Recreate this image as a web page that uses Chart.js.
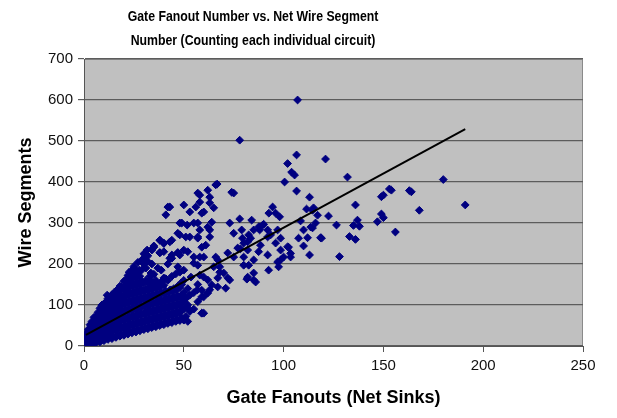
<!DOCTYPE html>
<html><head><meta charset="utf-8">
<title>Gate Fanout Number vs. Net Wire Segment</title>
<script src="https://cdn.jsdelivr.net/npm/chart.js@4.4.3/dist/chart.umd.min.js"></script>
<style>
  html,body{margin:0;padding:0;background:#fff}
  #wrap{width:617px;height:418px}
</style>
</head><body>
<div id="wrap"><canvas id="c" width="617" height="418"></canvas></div>
<script>
// [gate fanouts, wire segments]
const denseCore = [
  [0,1],[0,9],[0,18],[1,4],[1,16],[1,30],[2,3],[2,12],[2,26],[2,40],[3,8],[3,22],[3,38],[3,52],
  [4,5],[4,17],[4,33],[4,48],[4,60],[5,11],[5,27],[5,44],[5,58],[5,70],[6,8],[6,22],[6,40],[6,56],[6,72],
  [7,14],[7,30],[7,47],[7,64],[7,82],[8,10],[8,26],[8,43],[8,61],[8,78],[8,92],
  [9,16],[9,33],[9,52],[9,70],[9,86],[9,99],[10,13],[10,29],[10,47],[10,65],[10,83],[10,102],
  [11,19],[11,37],[11,55],[11,73],[11,92],[11,108],[12,16],[12,32],[12,50],[12,69],[12,88],[12,105],[12,116],
  [13,22],[13,41],[13,59],[13,78],[13,97],[13,114],[14,18],[14,36],[14,54],[14,72],[14,91],[14,109],[14,125],
  [15,24],[15,43],[15,62],[15,80],[15,99],[15,118],[15,130],[16,21],[16,39],[16,57],[16,76],[16,94],[16,113],[16,131],
  [17,27],[17,46],[17,64],[17,83],[17,102],[17,121],[17,139],
  [18,24],[18,42],[18,60],[18,79],[18,98],[18,116],[18,135],[18,146],
  [19,29],[19,48],[19,67],[19,86],[19,105],[19,124],[19,142],
  [20,26],[20,44],[20,63],[20,82],[20,101],[20,120],[20,139],[20,158],
  [21,32],[21,51],[21,70],[21,89],[21,108],[21,127],[21,146],[21,162],
  [22,29],[22,47],[22,66],[22,85],[22,104],[22,123],[22,142],[22,160],[22,172],
  [23,35],[23,54],[23,73],[23,92],[23,111],[23,130],[23,150],[23,168],
  [24,32],[24,50],[24,69],[24,88],[24,107],[24,126],[24,145],[24,164],[24,184],
  [25,37],[25,56],[25,75],[25,94],[25,113],[25,132],[25,152],[25,172],[25,194],
  [26,34],[26,52],[26,71],[26,90],[26,109],[26,128],[26,148],[26,168],
  [27,40],[27,59],[27,78],[27,97],[27,116],[27,136],[27,156],[27,178],[27,204],
  [28,37],[28,55],[28,74],[28,93],[28,112],[28,131],[28,150],[28,170],
  [29,42],[29,61],[29,80],[29,99],[29,118],[29,138],[29,158],[29,186],[29,210],
  [30,40],[30,58],[30,77],[30,96],[30,115],[30,134],[30,154],[30,200],[30,225],
  [31,45],[31,64],[31,83],[31,102],[31,121],[31,140],[31,160],[31,190],
  [32,42],[32,60],[32,79],[32,98],[32,117],[32,136],[32,156],[32,206],[32,220],
  [33,48],[33,67],[33,86],[33,105],[33,124],[33,143],[33,170],
  [34,45],[34,63],[34,82],[34,101],[34,120],[34,139],[34,158],[34,200],[34,236],
  [35,50],[35,69],[35,88],[35,107],[35,126],[35,145],[35,175],[35,244],
  [36,47],[36,66],[36,85],[36,104],[36,123],[36,142],[36,160],
  [37,53],[37,72],[37,91],[37,110],[37,129],[37,150],[37,190],
  [38,50],[38,68],[38,87],[38,106],[38,125],[38,144],[38,228],[38,258],
  [39,55],[39,74],[39,93],[39,112],[39,131],[39,158],
  [40,52],[40,71],[40,90],[40,109],[40,128],[40,148],[40,250],
  [41,58],[41,77],[41,96],[41,115],[41,134],[41,164],
  [42,55],[42,73],[42,92],[42,111],[42,130],[42,160],[42,200],
  [43,60],[43,79],[43,98],[43,117],[43,136],[43,214],
  [44,57],[44,76],[44,95],[44,114],[44,133],[44,170],[44,222],
  [45,63],[45,82],[45,101],[45,120],[45,140],
  [46,60],[46,78],[46,97],[46,116],[46,136],[46,176],
  [47,65],[47,84],[47,103],[47,122],[47,146],[47,228],
  [48,62],[48,81],[48,100],[48,119],[48,142],[48,180],
  [49,68],[49,87],[49,106],[49,125],[49,150],
  [50,64],[50,90],[50,110],[50,130],[50,160],[51,72],[51,116],[52,60],[52,100],[52,140],
  [53,84],[53,124],[55,90],[55,130],[57,108],[57,150],[59,80],[59,136]
]

const upperBand = [
  [25,190],[27.6,185],[22.6,180],[33.5,178],[38.7,185],[40,166],[33.5,154],[26.6,154],[21.6,161],[18.6,144],
  [16,129],[11.6,124],[9,100],[13.4,107],[30,214],[35,241],[31.6,234],[38,227],[44,214],[48,222],[50,234],
  [59,241],[58,217],[55,202],[47,193],[50,185],[53.6,168],[48.7,154],[43.7,137],[50,120],[51.7,95],[50,63],
  [59,80],[56.8,137],[60,168],[64,149],[43,339],[41,320],[50,344],[53,327],[58,368],[62,380],[59,324],[63,349],
  [49,300],[55,300],[47,275],[51,266],[44,258],[57,266],[62,290],[40,251],[66,393],[57,373],[63,363],[58,351],
  [75,373],[42,339],[56,339],[60,327],[65,337],[64,302],[63,283],[58,283],[57,300],[51.7,295],[48,300],[48,271],
  [53,266],[57,263],[38,258],[43,254],[34,234],[40,230],[47,227],[52,230],[55,217],[66.7,395],[74,375]
]

const midCloud = [
  [61,246],[66,217],[65,193],[68,193],[70,178],[67,166],[73,161],[71,141],[62,129],[59,120],[60,80],[60,120],
  [63,137],[67,144],[72,166],[68,180],[67,210],[72,227],[77,239],[82,254],[79.4,263],[75,275],[60,217],[57,197],
  [58,173],[62,161],[63,266],[94.5,339],[96,324],[98,315],[78,310],[84,307],[73,300],[79,283],[82.5,271],[85,283],
  [87.6,291],[90,297],[92,283],[93.5,271],[97,283],[98.5,263],[80,251],[83.5,263],[78.4,237],[75,217],[80,217],
  [82,234],[88.4,246],[96,251],[98.5,234],[102.5,241],[103.5,226],[100,217],[97,205],[97.5,193],[92.5,185],
  [85,178],[82,168],[86,156],[80,197],[92.6,324],[88,283],[92,266],[87.5,230],[92,222],[85,210],[82.5,197],
  [81.6,163],[89.5,295],[98.5,210],[85,161]
]

const outerCloud = [
  [107,600],[78,502],[106.5,466],[102,445],[104,424],[105.5,417],[100.5,400],[106.5,378],[113,363],[121,456],
  [132,412],[180,406],[191,344],[150,368],[153,383],[164,376],[154,380],[163,379],[149,364],[168,331],[136,344],
  [111.5,334],[114.5,331],[117,319],[122.5,317],[115,337],[149,322],[150,313],[147,303],[137,307],[135,294],
  [138,292],[156,278],[133,267],[136,260],[126.5,295],[118.5,264],[112,264],[110,244],[113,222],[128,218],
  [110,283],[114.5,288],[116,300],[108.5,305],[113.6,290],[107.5,263],[102,242],[103.5,217],[119,263]
]

const trendFanouts = [1, 191]
const trendSegments = [27, 529]

const xTicks = [0, 50, 100, 150, 200, 250]
const yTicks = [0, 100, 200, 300, 400, 500, 600, 700]

const titleLines = ['Gate Fanout Number vs. Net Wire Segment', 'Number (Counting each individual circuit)']

const FONT = "'Liberation Sans', Arial, Helvetica, sans-serif"

const scatterPts = [...denseCore, ...upperBand, ...midCloud, ...outerCloud].map(p => ({ x: p[0], y: p[1] }))
const trendPts = trendFanouts.map((x, i) => ({ x, y: trendSegments[i] }))

const plotBg = {
  id: 'plotBg',
  beforeDraw(chart) {
    const { ctx, chartArea: a } = chart
    ctx.save()
    ctx.fillStyle = '#c0c0c0'
    ctx.fillRect(a.left, a.top, a.right - a.left, a.bottom - a.top)
    ctx.strokeStyle = '#8a8a8a'
    ctx.lineWidth = 1
    ctx.strokeRect(a.left + 0.5, a.top + 0.5, a.right - a.left - 1, a.bottom - a.top - 1)
    ctx.restore()
  }
}

// two-line title, a bit condensed like the original
const sideTitle = {
  id: 'sideTitle',
  afterDraw(chart) {
    const ctx = chart.ctx
    ctx.save()
    ctx.fillStyle = '#000'
    ctx.font = 'bold 15px ' + FONT
    ctx.textAlign = 'center'
    ctx.textBaseline = 'middle'
    const ys = [17, 41]
    titleLines.forEach((t, i) => {
      ctx.save()
      ctx.translate(253, ys[i])
      ctx.scale(0.82, 1)
      ctx.fillText(t, 0, 0)
      ctx.restore()
    })
    ctx.restore()
  }
}

new Chart(document.getElementById('c'), {
  type: 'scatter',
  data: {
    datasets: [
      {
        type: 'line',
        data: trendPts,
        borderColor: '#000',
        borderWidth: 2,
        pointRadius: 0,
        fill: false,
        order: 0
      },
      {
        data: scatterPts,
        pointStyle: 'rectRot',
        pointRadius: 3.9,
        backgroundColor: '#000080',
        borderColor: '#000080',
        borderWidth: 1,
        order: 1
      }
    ]
  },
  options: {
    responsive: false,
    animation: false,
    devicePixelRatio: 1,
    layout: { padding: { top: 59, right: 34, left: 0, bottom: 0 } },
    plugins: { legend: { display: false }, title: { display: false }, tooltip: { enabled: false } },
    scales: {
      x: {
        type: 'linear', min: 0, max: 250,
        afterBuildTicks: s => { s.ticks = xTicks.map(v => ({ value: v })) },
        afterFit: s => { s.height = 72 },
        grid: { drawOnChartArea: false, drawTicks: true, tickLength: 6, color: '#555' },
        border: { display: true, color: '#555', width: 1 },
        ticks: { color: '#111', font: { family: FONT, size: 15 }, padding: 5, maxRotation: 0 },
        title: { display: true, text: 'Gate Fanouts (Net Sinks)', color: '#000',
          font: { family: FONT, size: 18, weight: 'bold' }, padding: { top: 0, bottom: 9 } }
      },
      y: {
        type: 'linear', min: 0, max: 700,
        afterBuildTicks: s => { s.ticks = yTicks.map(v => ({ value: v })) },
        afterFit: s => { s.width = 84 },
        grid: { drawOnChartArea: true, drawTicks: true, tickLength: 6, color: '#5c5c5c', lineWidth: 1.2 },
        border: { display: true, color: '#555', width: 1 },
        ticks: { color: '#111', font: { family: FONT, size: 15 }, padding: 5 },
        title: { display: true, text: 'Wire Segments', color: '#000',
          font: { family: FONT, size: 18, weight: 'bold' }, padding: { top: 15, bottom: 0 } }
      }
    }
  },
  plugins: [plotBg, sideTitle]
})
</script>
</body></html>
